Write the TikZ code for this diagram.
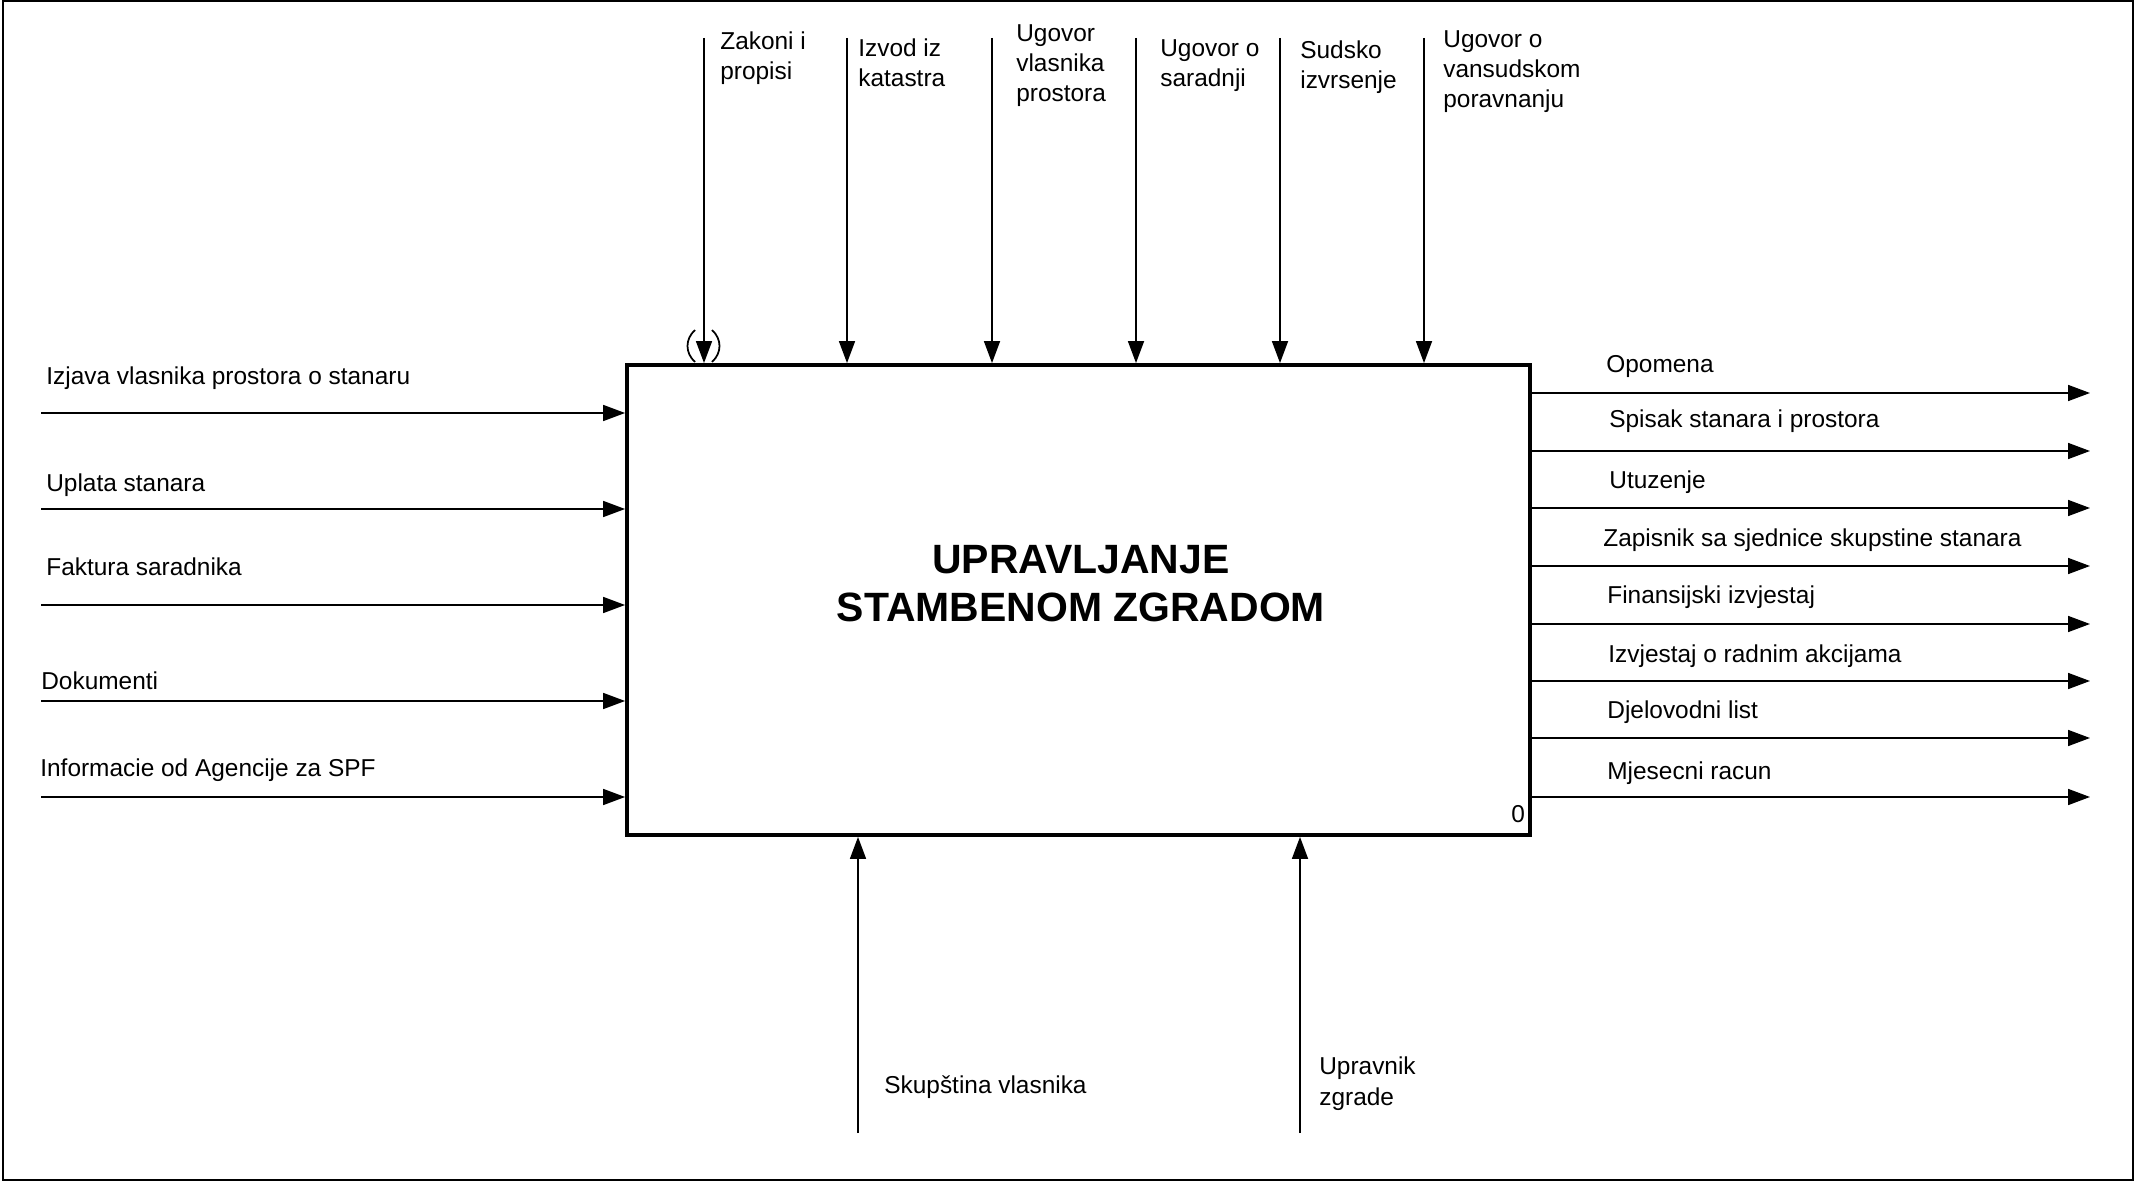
\documentclass[tikz,border=0pt]{standalone}
\usepackage{fontspec}
\setmainfont{Liberation Sans}
\usetikzlibrary{arrows.meta}

\begin{document}
\begin{tikzpicture}[x=0.02cm,y=-0.02cm,
  lbl/.style={anchor=base west,inner sep=0pt,align=left,font=\fontsize{13.9}{17.1}\selectfont},
  flow/.style={line width=0.035cm,-{Triangle[length=0.44cm,width=0.32cm]}},
  tunnel/.style={line width=0.035cm}]
\useasboundingbox (0,0) rectangle (2147,1182);
\draw[line width=0.045cm] (3,1) rectangle (2133,1180);
\node[draw,line width=0.08cm,minimum width=18.06cm,minimum height=9.4cm,inner sep=0pt] (box) at (1078.5,600) {};
\node[align=center,inner sep=0pt,font=\fontsize{23.3}{27.3}\selectfont\bfseries] (title) at (1081,584) {UPRAVLJANJE\\STAMBENOM ZGRADOM};
\node[lbl,anchor=base west] (num) at (1511,822) {0};
\coordinate (in1) at (41,413);
\coordinate (in2) at (41,509);
\coordinate (in3) at (41,605);
\coordinate (in4) at (41,701);
\coordinate (in5) at (41,797);
\draw[flow] (in1) -- (in1 -| box.west);
\draw[flow] (in2) -- (in2 -| box.west);
\draw[flow] (in3) -- (in3 -| box.west);
\draw[flow] (in4) -- (in4 -| box.west);
\draw[flow] (in5) -- (in5 -| box.west);
\node[lbl] (in1lbl) at (46,385) {Izjava vlasnika prostora o stanaru};
\node[lbl] (in2lbl) at (46,491) {Uplata stanara};
\node[lbl] (in3lbl) at (46,575) {Faktura saradnika};
\node[lbl] (in4lbl) at (41,689) {Dokumenti};
\node[lbl] (in5lbl) at (40,776) {Informacie od Agencije za SPF};
\coordinate (out1) at (2090,393);
\coordinate (out2) at (2090,451);
\coordinate (out3) at (2090,508);
\coordinate (out4) at (2090,566);
\coordinate (out5) at (2090,624);
\coordinate (out6) at (2090,681);
\coordinate (out7) at (2090,738);
\coordinate (out8) at (2090,797);
\draw[flow] (out1 -| box.east) -- (out1);
\draw[flow] (out2 -| box.east) -- (out2);
\draw[flow] (out3 -| box.east) -- (out3);
\draw[flow] (out4 -| box.east) -- (out4);
\draw[flow] (out5 -| box.east) -- (out5);
\draw[flow] (out6 -| box.east) -- (out6);
\draw[flow] (out7 -| box.east) -- (out7);
\draw[flow] (out8 -| box.east) -- (out8);
\node[lbl] (out1lbl) at (1606,373) {Opomena};
\node[lbl] (out2lbl) at (1609,428) {Spisak stanara i prostora};
\node[lbl] (out3lbl) at (1609,488) {Utuzenje};
\node[lbl] (out4lbl) at (1603,546) {Zapisnik sa sjednice skupstine stanara};
\node[lbl] (out5lbl) at (1607,603) {Finansijski izvjestaj};
\node[lbl] (out6lbl) at (1608,662) {Izvjestaj o radnim akcijama};
\node[lbl] (out7lbl) at (1607,718) {Djelovodni list};
\node[lbl] (out8lbl) at (1607,779) {Mjesecni racun};
\coordinate (ctl1) at (704,38);
\coordinate (ctl2) at (847,38);
\coordinate (ctl3) at (992,38);
\coordinate (ctl4) at (1136,38);
\coordinate (ctl5) at (1280,38);
\coordinate (ctl6) at (1424,38);
\draw[flow] (ctl1) -- (ctl1 |- box.north);
\draw[flow] (ctl2) -- (ctl2 |- box.north);
\draw[flow] (ctl3) -- (ctl3 |- box.north);
\draw[flow] (ctl4) -- (ctl4 |- box.north);
\draw[flow] (ctl5) -- (ctl5 |- box.north);
\draw[flow] (ctl6) -- (ctl6 |- box.north);
\draw[tunnel] (695,330) .. controls (685,339) and (685,353) .. (695,362);
\draw[tunnel] (712,330) .. controls (722,339) and (722,353) .. (712,362);
\node[lbl] (ctl1lbl) at (720,80) {Zakoni i\\propisi};
\node[lbl] (ctl2lbl) at (858,87) {Izvod iz\\katastra};
\node[lbl] (ctl3lbl) at (1016,102) {Ugovor\\vlasnika\\prostora};
\node[lbl] (ctl4lbl) at (1160,87) {Ugovor o\\saradnji};
\node[lbl] (ctl5lbl) at (1300,89) {Sudsko\\izvrsenje};
\node[lbl] (ctl6lbl) at (1443,108) {Ugovor o\\vansudskom\\poravnanju};
\coordinate (mech1) at (858,1133);
\coordinate (mech2) at (1300,1133);
\draw[flow] (mech1) -- (mech1 |- box.south);
\draw[flow] (mech2) -- (mech2 |- box.south);
\node[lbl] (mech1lbl) at (884,1093) {Skupština vlasnika};
\node[lbl] (mech2lbl) at (1319,1105) {Upravnik\\zgrade};
\end{tikzpicture}
\end{document}
